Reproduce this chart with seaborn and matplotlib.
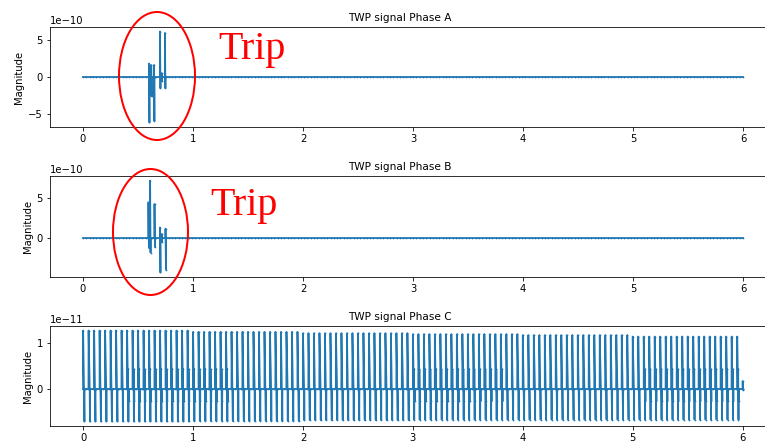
import numpy as np
import matplotlib
matplotlib.use("Agg")
import matplotlib.pyplot as plt
import seaborn as sns
from matplotlib.patches import Ellipse
from matplotlib.ticker import MultipleLocator

# Baseline sampling instants (s) shared by the three phase records
sample_t = np.linspace(0.0, 6.0, 201)

# Phase A travelling-wave spikes: instant, positive swing, negative swing (x1e-10)
phase_a_t = [0.600, 0.620, 0.645, 0.700, 0.715, 0.745]
phase_a_hi = [1.8, 1.6, 1.6, 6.1, 0.5, 5.9]
phase_a_lo = [-6.1, -2.6, -5.9, -1.5, -0.5, -1.5]

# Phase B travelling-wave spikes (x1e-10)
phase_b_t = [0.595, 0.610, 0.650, 0.700, 0.715, 0.750]
phase_b_hi = [4.4, 7.1, 4.2, 1.3, 0.5, 1.15]
phase_b_lo = [-1.2, -1.8, -1.1, -4.25, -0.5, -3.9]

# Phase C periodic pulse train (x1e-11)
phase_c_t = [
    0.00, 0.05, 0.10, 0.15, 0.20, 0.25, 0.30, 0.35, 0.40, 0.45,
    0.50, 0.55, 0.60, 0.65, 0.70, 0.75, 0.80, 0.85, 0.90, 0.95,
    1.00, 1.05, 1.10, 1.15, 1.20, 1.25, 1.30, 1.35, 1.40, 1.45,
    1.50, 1.55, 1.60, 1.65, 1.70, 1.75, 1.80, 1.85, 1.90, 1.95,
    2.00, 2.05, 2.10, 2.15, 2.20, 2.25, 2.30, 2.35, 2.40, 2.45,
    2.50, 2.55, 2.60, 2.65, 2.70, 2.75, 2.80, 2.85, 2.90, 2.95,
    3.00, 3.05, 3.10, 3.15, 3.20, 3.25, 3.30, 3.35, 3.40, 3.45,
    3.50, 3.55, 3.60, 3.65, 3.70, 3.75, 3.80, 3.85, 3.90, 3.95,
    4.00, 4.05, 4.10, 4.15, 4.20, 4.25, 4.30, 4.35, 4.40, 4.45,
    4.50, 4.55, 4.60, 4.65, 4.70, 4.75, 4.80, 4.85, 4.90, 4.95,
    5.00, 5.05, 5.10, 5.15, 5.20, 5.25, 5.30, 5.35, 5.40, 5.45,
    5.50, 5.55, 5.60, 5.65, 5.70, 5.75, 5.80, 5.85, 5.90, 5.95,
]
phase_c_peak_per_second = [1.26, 1.23, 1.20, 1.18, 1.16, 1.13]
phase_c_trough_per_second = [-0.70, -0.69, -0.67, -0.66, -0.66, -0.66]
phase_c_ring_windows = [(0.38, 1.34), (3.00, 3.80), (5.10, 5.95)]
phase_c_ring_hi, phase_c_ring_lo = 0.43, -0.26
phase_c_tail_t, phase_c_tail_hi, phase_c_tail_lo = 6.00, 0.17, -0.02

titles = ["TWP signal Phase A", "TWP signal Phase B", "TWP signal Phase C"]
y_steps = [5e-10, 5e-10, 1e-11]


def pulse(dt, hi, lo, width):
    """A sharp up/down swing that leaves and rejoins the zero baseline."""
    return [(dt - 0.001, 0.0), (dt, hi), (dt + width, lo),
            (dt + width + 0.001, 0.0)]


def build_trace(events):
    """Merge spike samples (instant, [(offset, value)]) into a zero baseline."""
    ts = list(sample_t)
    ys = [0.0] * len(ts)
    for t0, offsets_vals in events:
        for dt, v in offsets_vals:
            ts.append(t0 + dt)
            ys.append(v)
    order = np.argsort(ts, kind="stable")
    return np.asarray(ts)[order], np.asarray(ys)[order]


events_a = [(t, pulse(0.0, h * 1e-10, l * 1e-10, 0.004))
            for t, h, l in zip(phase_a_t, phase_a_hi, phase_a_lo)]
events_b = [(t, pulse(0.0, h * 1e-10, l * 1e-10, 0.004))
            for t, h, l in zip(phase_b_t, phase_b_hi, phase_b_lo)]

events_c = []
for t in phase_c_t:
    sec = min(int(t), 5)
    seq = pulse(0.0, phase_c_peak_per_second[sec] * 1e-11,
                phase_c_trough_per_second[sec] * 1e-11, 0.012)
    if any(a <= t <= b for a, b in phase_c_ring_windows):
        seq += pulse(0.009, phase_c_ring_hi * 1e-11,
                     phase_c_ring_lo * 1e-11, 0.006)
    events_c.append((t, seq))
events_c.append((phase_c_tail_t, pulse(0.0, phase_c_tail_hi * 1e-11,
                                       phase_c_tail_lo * 1e-11, 0.002)))

traces = [build_trace(events_a), build_trace(events_b), build_trace(events_c)]

W, H = 765, 441
fig = plt.figure(figsize=(W / 72, H / 72), dpi=72)

# Axes boxes in pixels: (left, top, right, bottom)
boxes = [(50, 27, 776, 127), (50, 176, 776, 277), (50, 326, 776, 426)]

for (l, t, r, b), (xt, yt), title, step in zip(boxes, traces, titles, y_steps):
    ax = fig.add_axes([l / W, (H - b) / H, (r - l) / W, (b - t) / H])
    sns.lineplot(x=xt, y=yt, ax=ax, estimator=None, sort=False,
                 color="#1f77b4", linewidth=1.8, marker=".",
                 markersize=3.5, markeredgewidth=0)
    ax.set_title(title, fontsize=10.5)
    ax.title.set_x((400 - l) / (r - l))
    ax.set_ylabel("Magnitude", fontsize=10)
    ax.yaxis.set_major_locator(MultipleLocator(step))
    ax.tick_params(labelsize=10)

# Highlight the trip transients
for cx, cy, ew, eh in [(157, 76, 76, 128), (150.5, 232, 75, 126)]:
    fig.add_artist(Ellipse((cx / W, 1 - cy / H), ew / W, eh / H,
                           transform=fig.transFigure, fill=False,
                           edgecolor="red", linewidth=2))

for x, y in [(218, 59), (210, 215)]:
    fig.text(x / W, 1 - y / H, "Trip", fontsize=40, color="red",
             family="Liberation Serif", va="baseline", ha="left")

fig.savefig("out.png", dpi=72)
